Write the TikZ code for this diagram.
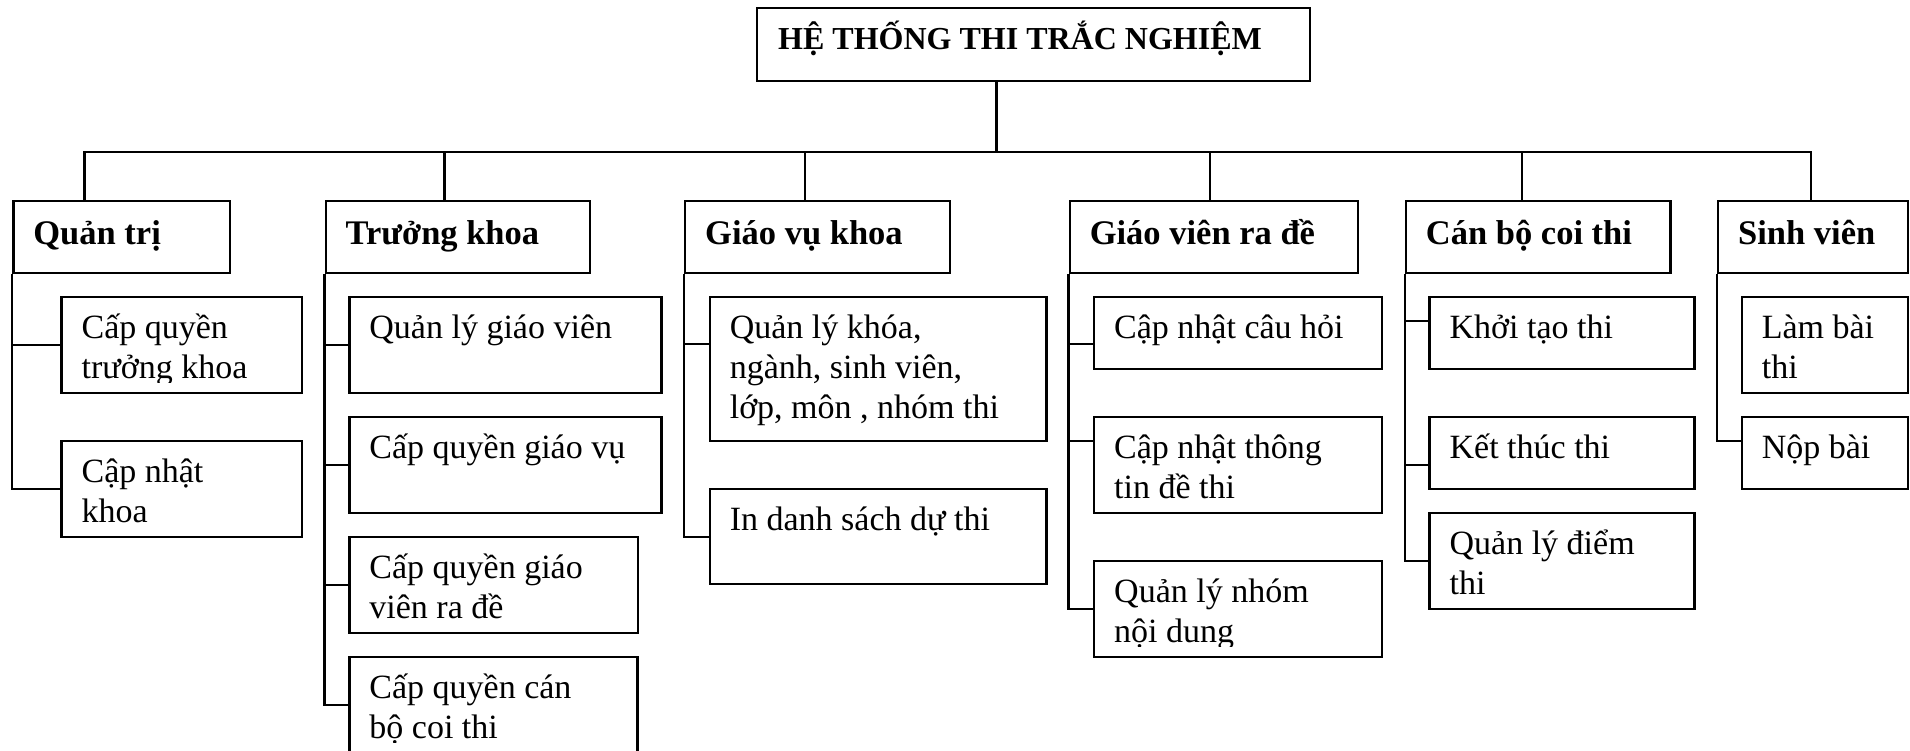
\documentclass[tikz,border=0pt]{standalone}
\usepackage{fontspec}
\setmainfont{Liberation Serif}
\begin{document}
\begin{tikzpicture}[x=1pt,y=-1pt,
  box/.style={draw=black, line width=2.4pt, anchor=north west, inner sep=0pt},
  txt/.style={anchor=base west, inner sep=0pt, font=\fontsize{34}{40}\selectfont},
  head/.style={anchor=base west, inner sep=0pt, font=\fontsize{34.5}{40}\selectfont\bfseries},
  link/.style={draw=black, line width=2.4pt}]

\useasboundingbox[fill=white] (0,0) rectangle (1910,750);

% header box: name, x, y, width, height, text
\newcommand\headbox[6]{%
  \node[box, minimum width=#4pt, minimum height=#5pt] (#1) at (#2,#3) {};
  \node[head] (#1-t) at ([shift={(21pt,-44pt)}]#1.north west) {#6};}
% leaf box: text clipped a little above the lower border
\newcommand\leafbox[6]{%
  \node[box, minimum width=#4pt, minimum height=#5pt] (#1) at (#2,#3) {};
  \begin{scope}
    \clip ([shift={(2pt,-2pt)}]#1.north west) rectangle ([yshift=12pt]#1.south east);
    \node[txt] (#1-t) at ([shift={(21pt,-42pt)}]#1.north west)
      {\begin{tabular}[t]{@{}l@{}}#6\end{tabular}};
  \end{scope}}

% root
\node[box, minimum width=553pt, minimum height=73pt] (root) at (756,7) {};
\node[head, font=\fontsize{32}{38}\selectfont\bfseries] (root-t)
  at ([shift={(22pt,-42.5pt)}]root.north west) {HỆ THỐNG THI TRẮC NGHIỆM};

% second level
\headbox{qt}{12.2}{200}{216.4}{72}{Quản trị}
\headbox{tk}{324.5}{200}{264.1}{72}{Trưởng khoa}
\headbox{gv}{684}{200}{265}{72}{Giáo vụ khoa}
\headbox{gd}{1068.6}{200}{288.4}{72}{Giáo viên ra đề}
\headbox{cb}{1404.7}{200}{264.5}{72}{Cán bộ coi thi}
\headbox{sv}{1717}{200}{190}{72}{Sinh viên}

% leaves
\leafbox{qt1}{60.4}{296}{240.4}{96}{Cấp quyền\\trưởng khoa}
\leafbox{qt2}{60.4}{440}{240.4}{96}{Cập nhật\\khoa}
\leafbox{tk1}{348.2}{296}{312.2}{96}{Quản lý giáo viên}
\leafbox{tk2}{348.2}{416}{312.2}{96}{Cấp quyền giáo vụ}
\leafbox{tk3}{348.2}{536}{288.5}{96}{Cấp quyền giáo\\viên ra đề}
\leafbox{tk4}{348.2}{656}{288}{96}{Cấp quyền cán\\bộ coi thi}
\leafbox{gv1}{708.6}{296}{336.7}{144}{Quản lý khóa,\\ngành, sinh viên,\\lớp, môn , nhóm thi}
\leafbox{gv2}{708.6}{488}{336.7}{95}{In danh sách dự thi}
\leafbox{gd1}{1093}{296}{288}{72}{Cập nhật câu hỏi}
\leafbox{gd2}{1093}{416}{288}{96}{Cập nhật thông\\tin đề thi}
\leafbox{gd3}{1093}{560}{288}{96}{Quản lý nhóm\\nội dung}
\leafbox{cb1}{1428.4}{296}{265}{72}{Khởi tạo thi}
\leafbox{cb2}{1428.4}{416}{265}{72}{Kết thúc thi}
\leafbox{cb3}{1428.4}{512}{265}{96}{Quản lý điểm\\thi}
\leafbox{sv1}{1740.6}{296}{166.4}{96}{Làm bài\\thi}
\leafbox{sv2}{1740.6}{416}{166.4}{72}{Nộp bài}

% bus and drops
\coordinate (bus0) at (996.3,152);
\coordinate (bqt) at (84.5,152);
\coordinate (btk) at (444.5,152);
\coordinate (bgv) at (805,152);
\coordinate (bgd) at (1210.2,152);
\coordinate (bcb) at (1522,152);
\coordinate (bsv) at (1811,152);

\draw[link] (root.south -| bus0) -- (bus0);
\draw[link] (qt.north -| bqt) -- (bqt) -- (bsv) -- (sv.north -| bsv);
\draw[link] (btk) -- (tk.north -| btk);
\draw[link] (bgv) -- (gv.north -| bgv);
\draw[link] (bgd) -- (gd.north -| bgd);
\draw[link] (bcb) -- (cb.north -| bcb);

% branches on the left edge of each group
\draw[link] (qt.south west) |- (qt2.west);
\draw[link] (qt.south west) |- (qt1.west);

\draw[link] (tk.south west) |- (tk4.west);
\draw[link] (tk.south west) |- (tk1.west);
\draw[link] (tk.south west) |- (tk2.west);
\draw[link] (tk.south west) |- (tk3.west);

\draw[link] (gv.south west) |- (gv2.west);
\draw[link] (gv.south west) |- ([yshift=25pt]gv1.west);

\draw[link] (gd.south west) |- (gd3.west);
\draw[link] (gd.south west) |- ([yshift=-11pt]gd1.west);
\draw[link] (gd.south west) |- ([yshift=24pt]gd2.west);

\draw[link] (cb.south west) |- (cb3.west);
\draw[link] (cb.south west) |- ([yshift=12pt]cb1.west);
\draw[link] (cb.south west) |- ([yshift=-12pt]cb2.west);

\draw[link] (sv.south west) |- ([yshift=12pt]sv2.west);
\end{tikzpicture}
\end{document}
